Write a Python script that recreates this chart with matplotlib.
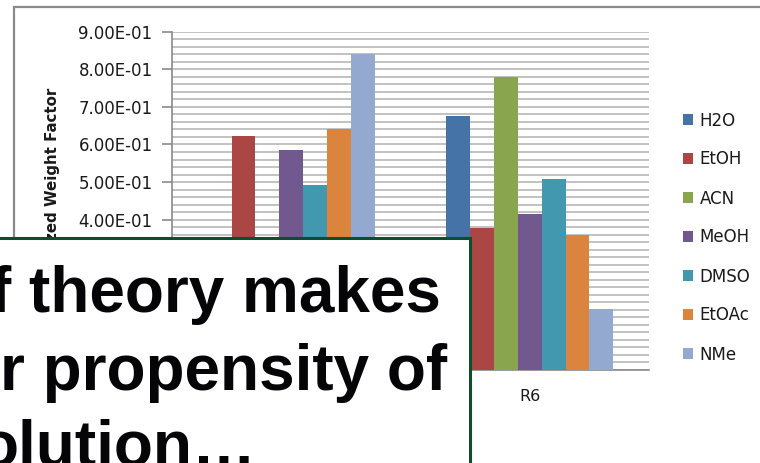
import numpy as np
import matplotlib
matplotlib.use("Agg")
import matplotlib.pyplot as plt
from matplotlib.patches import Rectangle
from matplotlib.ticker import FuncFormatter

# ---- data ----
categories = ["R5", "R6"]
series_names = ["H2O", "EtOH", "ACN", "MeOH", "DMSO", "EtOAc", "NMe"]
h2o = [0.27, 0.676]
etoh = [0.623, 0.378]
acn = [0.31, 0.779]
meoh = [0.585, 0.416]
dmso = [0.493, 0.508]
etoac = [0.642, 0.360]
nme = [0.841, 0.162]
y_ticks = [0.0, 0.1, 0.2, 0.3, 0.4, 0.5, 0.6, 0.7, 0.8, 0.9]
y_label = "Normalized Weight Factor"
overlay_lines = ["f theory makes", "r propensity of", "olution\u2026"]

colors = ["#4572A7", "#AA4643", "#89A54E", "#71588F", "#4198AF", "#DB843D", "#93A9CF"]
series_values = [h2o, etoh, acn, meoh, dmso, etoac, nme]

W, H = 760, 463
fig = plt.figure(figsize=(W / 100, H / 100), dpi=100)
fig.patch.set_facecolor("white")

def fx(px):
    return px / W

def fy(py):
    return (H - py) / H

# outer chart frame
fig.add_artist(Rectangle((fx(14), fy(520)), fx(800) - fx(14), fy(7) - fy(520),
                         transform=fig.transFigure, fill=False, ec="#8a8a8a", lw=1.6, zorder=-1))

# plot area
left, right, top, bottom = 172, 649, 31.7, 370
ax = fig.add_axes([fx(left), fy(bottom), fx(right) - fx(left), fy(top) - fy(bottom)])
ax.set_facecolor("none")

x = np.arange(len(categories))
bw = 0.1
n = len(series_names)
for i, (name, vals, c) in enumerate(zip(series_names, series_values, colors)):
    ax.bar(x + (i - (n - 1) / 2) * bw, vals, width=bw, color=c, label=name, zorder=3,
           linewidth=0)

ax.set_xlim(-0.5, len(categories) - 0.5)
ax.set_ylim(0, 0.9)
ax.set_yticks(y_ticks)
ax.set_yticks(np.arange(0, 0.9001, 0.02), minor=True)
# labels lying under the overlaid text box are not visible in the reference
box_top_val = (bottom - 237.5) / (bottom - top) * 0.9
ax.yaxis.set_major_formatter(FuncFormatter(lambda v, p: ("%.2E" % v) if v > box_top_val else ""))
ax.grid(True, which="both", axis="y", color="#b8b8b8", lw=1.2, zorder=0)
ax.set_xticks(x)
ax.set_xticklabels(categories)
for lbl, xc in zip(ax.get_xticklabels(), x):
    # category centres left of the box edge are covered by the text box
    if left + (xc + 0.5) / len(categories) * (right - left) < 470:
        lbl.set_visible(False)

for s in ["top", "right"]:
    ax.spines[s].set_visible(False)
for s in ["left", "bottom"]:
    ax.spines[s].set_color("#8a8a8a")
    ax.spines[s].set_linewidth(1.2)

ax.tick_params(axis="y", which="major", length=7, width=1.2, color="#8a8a8a", pad=7,
               labelsize=12, labelcolor="#1a1a1a")
ax.tick_params(axis="y", which="minor", length=0)
ax.tick_params(axis="x", length=0, pad=14, labelsize=11.5, labelcolor="#1a1a1a")
for lbl in ax.get_yticklabels() + ax.get_xticklabels():
    lbl.set_fontfamily("DejaVu Sans")

fig.text(fx(53), fy(197), y_label, rotation=90, ha="center", va="center",
         fontsize=10.8, fontweight="bold", family="DejaVu Sans", color="#1a1a1a")

leg = ax.legend(loc="center left", bbox_to_anchor=(fx(683), fy(237.5)),
                bbox_transform=fig.transFigure, frameon=False, borderpad=0,
                borderaxespad=0, handlelength=0.6, handleheight=0.6,
                handletextpad=0.4, labelspacing=1.26, prop={"family": "DejaVu Sans", "size": 12})
for t in leg.get_texts():
    t.set_color("#1a1a1a")

# overlaid text box
fig.add_artist(Rectangle((fx(-20), fy(520)), fx(470) - fx(-20), fy(237.5) - fy(520),
                         transform=fig.transFigure, fc="white", ec="#0b4f2e", lw=2.2, zorder=5))
line_x = [-10.5, 0, -20]
line_y = [312, 390, 466]
for s, lx, ly in zip(overlay_lines, line_x, line_y):
    fig.text(fx(lx), fy(ly), s, ha="left", va="baseline", fontsize=46,
             fontweight="bold", family="Liberation Sans", color="#050508", zorder=6)

fig.savefig("out.png", dpi=100)
